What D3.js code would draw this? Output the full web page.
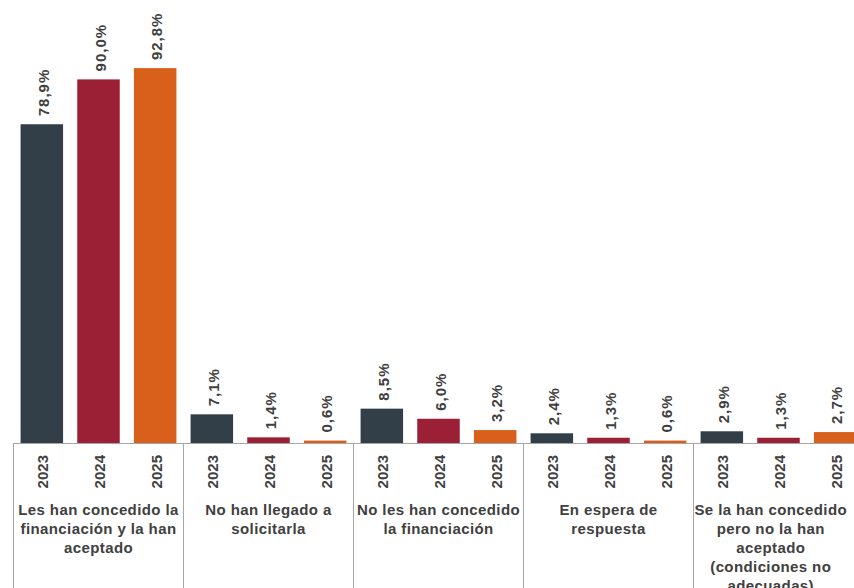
<!DOCTYPE html>
<html>
<head>
<meta charset="utf-8">
<script src="https://cdn.jsdelivr.net/npm/d3@7"></script>
<style>
  body { margin: 0; background: #fff; }
  svg { display: block; font-family: "Liberation Sans", Arial, sans-serif; }
</style>
</head>
<body>
<div id="chart"></div>
<script>
// categories (group labels, split into lines)
const categories = [
  ["Les han concedido la", "financiación y la han", "aceptado"],
  ["No han llegado a", "solicitarla"],
  ["No les han concedido", "la financiación"],
  ["En espera de", "respuesta"],
  ["Se la han concedido", "pero no la han", "aceptado", "(condiciones no", "adecuadas)"]
];
const years = ["2023", "2024", "2025"];
const values2023 = [78.9, 7.1, 8.5, 2.4, 2.9];
const values2024 = [90.0, 1.4, 6.0, 1.3, 1.3];
const values2025 = [92.8, 0.6, 3.2, 0.6, 2.7];
const colors = ["#323e48", "#9b2035", "#d9601a"];

const series = [values2023, values2024, values2025];

var width = 854, height = 588;
var plotLeft = 13.5, plotRight = 863.5, plotBase = 443, plotTop = 39;

var svg = d3.select("#chart").append("svg")
  .attr("width", width)
  .attr("height", height);

var x0 = d3.scaleBand()
  .domain(d3.range(categories.length))
  .range([plotLeft, plotRight]);

var x1 = d3.scaleBand()
  .domain(years)
  .range([0, x0.bandwidth()])
  .paddingInner(0.25)
  .paddingOuter(0.125);

var y = d3.scaleLinear()
  .domain([0, 100])
  .range([plotBase, plotTop]);

var fmt = v => v.toFixed(1).replace(".", ",") + "%";

var groups = svg.selectAll(".grp")
  .data(categories)
  .enter().append("g")
    .attr("class", "grp")
    .attr("transform", (d, i) => "translate(" + x0(i) + ",0)");

groups.each(function(cat, i) {
  var g = d3.select(this);
  years.forEach(function(yr, j) {
    var v = series[j][i];
    g.append("rect")
      .attr("x", x1(yr))
      .attr("width", x1.bandwidth())
      .attr("y", y(v))
      .attr("height", plotBase - y(v))
      .attr("fill", colors[j]);
    var cx = x1(yr) + x1.bandwidth() / 2;
    g.append("text")
      .attr("transform", "translate(" + (cx + 7) + "," + (y(v) - 8) + ") rotate(-90)")
      .attr("fill", "#404040")
      .style("font-size", "15px")
      .style("font-weight", "bold")
      .style("letter-spacing", "1px")
      .text(fmt(v));
    g.append("text")
      .attr("transform", "translate(" + (cx + 6.5) + ",455) rotate(-90)")
      .attr("text-anchor", "end")
      .attr("fill", "#404040")
      .style("font-size", "15px")
      .style("font-weight", "bold")
      .text(yr);
  });
  // label centred on the visible part of the group
  var gx = x0(i), gEnd = Math.min(gx + x0.bandwidth(), width - 6);
  var t = g.append("text")
    .attr("text-anchor", "middle")
    .attr("fill", "#404040")
    .style("font-size", "15px")
    .style("font-weight", "bold")
    .style("letter-spacing", "0.4px");
  cat.forEach(function(line, k) {
    t.append("tspan")
      .attr("x", (gEnd - gx) / 2)
      .attr("y", 515 + k * 19)
      .text(line);
  });
});

// axis line and group separators
svg.append("line")
  .attr("x1", plotLeft).attr("x2", plotRight)
  .attr("y1", plotBase + 0.5).attr("y2", plotBase + 0.5)
  .attr("stroke", "#a6a6a6");

svg.selectAll(".sep")
  .data(d3.range(categories.length + 1))
  .enter().append("line")
    .attr("x1", i => plotLeft + i * x0.bandwidth())
    .attr("x2", i => plotLeft + i * x0.bandwidth())
    .attr("y1", plotBase)
    .attr("y2", height)
    .attr("stroke", "#a6a6a6");
</script>
</body>
</html>
